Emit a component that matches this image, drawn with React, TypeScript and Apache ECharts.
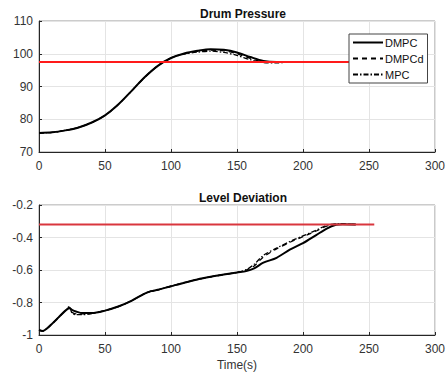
import React, { useEffect, useRef } from "react";
import * as echarts from "echarts";

// ---- Drum Pressure (top) ----
const pT = [0, 10, 20, 30, 40, 50, 60, 70, 80, 90, 100, 110, 120, 130, 140, 150, 160, 170, 180, 190, 200, 220, 240, 254];
const pDMPC = [75.8, 76.0, 76.6, 77.5, 79.0, 81.2, 84.5, 88.6, 92.8, 96.3, 98.7, 100.1, 100.9, 101.4, 101.2, 100.4, 99.0, 97.8, 97.5, 97.5, 97.5, 97.5, 97.5, 97.5];
const pDMPCd = [75.8, 76.0, 76.6, 77.5, 79.0, 81.2, 84.5, 88.6, 92.8, 96.3, 98.7, 100.0, 100.7, 101.1, 100.9, 100.0, 98.6, 97.5, 97.4, 97.5, 97.5, 97.5, 97.5, 97.5];
const pMPC = [75.8, 76.0, 76.6, 77.5, 79.0, 81.2, 84.5, 88.6, 92.8, 96.3, 98.7, 99.9, 100.5, 100.8, 100.4, 99.5, 98.2, 97.3, 97.2, 97.5, 97.5, 97.5, 97.5, 97.5];
const pRefT = [0, 254];
const pRef = [97.5, 97.5];

// ---- Level Deviation (bottom) ----
const lT = [0, 3, 6, 10, 15, 20, 23, 25, 28, 33, 40, 50, 60, 70, 80, 85, 90, 100, 110, 120, 130, 140, 150, 157, 163, 170, 180, 190, 200, 210, 218, 225, 230, 240];
const lDMPC = [-0.97, -0.975, -0.96, -0.93, -0.89, -0.85, -0.835, -0.845, -0.855, -0.865, -0.865, -0.85, -0.825, -0.79, -0.745, -0.73, -0.722, -0.7, -0.678, -0.658, -0.642, -0.628, -0.615, -0.607, -0.59, -0.555, -0.525, -0.475, -0.435, -0.385, -0.345, -0.322, -0.318, -0.32];
const lDMPCd = [-0.97, -0.975, -0.96, -0.93, -0.89, -0.85, -0.83, -0.86, -0.87, -0.87, -0.866, -0.85, -0.825, -0.79, -0.745, -0.73, -0.722, -0.7, -0.678, -0.658, -0.642, -0.628, -0.615, -0.6, -0.575, -0.52, -0.47, -0.43, -0.395, -0.36, -0.33, -0.318, -0.317, -0.32];
const lMPC = [-0.97, -0.975, -0.96, -0.93, -0.89, -0.85, -0.825, -0.865, -0.875, -0.875, -0.868, -0.85, -0.825, -0.79, -0.745, -0.73, -0.722, -0.7, -0.678, -0.658, -0.642, -0.628, -0.615, -0.598, -0.565, -0.51, -0.465, -0.425, -0.39, -0.355, -0.325, -0.317, -0.317, -0.32];
const lRefT = [0, 254];
const lRef = [-0.32, -0.32];

const legendNames = ["DMPC", "DMPCd", "MPC"];

const zip = (t: number[], v: number[]) => t.map((x, i) => [x, v[i]]);

export default function App() {
  const ref = useRef<HTMLDivElement>(null);
  useEffect(() => {
    if (!ref.current) return;
    const chart = echarts.init(ref.current, undefined, { renderer: "svg" });
    const font = "Liberation Sans, Arial, sans-serif";
    const mkX = (gi: number, extra: any = {}) => ({
      type: "value",
      gridIndex: gi,
      min: 0,
      max: 300,
      interval: 50,
      axisLine: { show: true, onZero: false, lineStyle: { color: "#262626", width: 1 } },
      axisTick: { show: true, inside: true, length: 3, lineStyle: { color: "#262626" } },
      axisLabel: { color: "#333", fontSize: 12, fontFamily: font, margin: 8 },
      splitLine: { show: true, lineStyle: { color: "#e4e4e4", width: 1 } },
      ...extra,
    });
    const mkY = (gi: number, min: number, max: number, interval: number) => ({
      type: "value",
      gridIndex: gi,
      min,
      max,
      interval,
      axisLine: { show: true, onZero: false, lineStyle: { color: "#262626", width: 1 } },
      axisTick: { show: true, inside: true, length: 3, lineStyle: { color: "#262626" } },
      axisLabel: { color: "#333", fontSize: 12, fontFamily: font, margin: 6 },
      splitLine: { show: true, lineStyle: { color: "#e4e4e4", width: 1 } },
    });
    const line = (name: string, gi: number, data: number[][], type: any, width: number, color = "#000", z = 2) => ({
      name,
      type: "line",
      xAxisIndex: gi,
      yAxisIndex: gi,
      data,
      symbol: "none",
      smooth: 0.3,
      lineStyle: { color, width, type },
      itemStyle: { color },
      z,
    });
    chart.setOption({
      animation: false,
      backgroundColor: "#fff",
      title: [
        { text: "Drum Pressure", left: 238, top: 3, textAlign: "center", textStyle: { fontSize: 12, fontWeight: "bold", color: "#111", fontFamily: font } },
        { text: "Level Deviation", left: 238, top: 187, textAlign: "center", textStyle: { fontSize: 12, fontWeight: "bold", color: "#111", fontFamily: font } },
      ],
      grid: [
        { left: 39, right: 10, top: 21, height: 131, show: true, borderColor: "#999", borderWidth: 1, backgroundColor: "transparent" },
        { left: 39, right: 10, top: 205, height: 130, show: true, borderColor: "#999", borderWidth: 1, backgroundColor: "transparent" },
      ],
      xAxis: [
        mkX(0),
        mkX(1, { name: "Time(s)", nameLocation: "middle", nameGap: 24, nameTextStyle: { color: "#333", fontSize: 12, fontFamily: font } }),
      ],
      yAxis: [mkY(0, 70, 110, 10), mkY(1, -1, -0.2, 0.2)],
      legend: {
        data: legendNames,
        orient: "vertical",
        left: 349,
        top: 34,
        itemWidth: 30,
        itemHeight: 10,
        itemGap: 5,
        padding: [3, 4, 3, 3],
        borderColor: "#444",
        borderWidth: 1,
        borderRadius: 0,
        backgroundColor: "#fff",
        itemStyle: { opacity: 0, borderWidth: 0 },
        textStyle: { color: "#111", fontSize: 11, fontFamily: font, padding: [0, 0, 0, -3] },
        z: 10,
      },
      series: [
        line("DMPC", 0, zip(pT, pDMPC), "solid", 2),
        line("DMPCd", 0, zip(pT, pDMPCd), [5, 4], 1.3),
        line("MPC", 0, zip(pT, pMPC), [5, 2, 1.5, 2], 1.3),
        line("ref1", 0, zip(pRefT, pRef), "solid", 2, "#ff1a1a", 3),
        line("DMPC", 1, zip(lT, lDMPC), "solid", 2),
        line("DMPCd", 1, zip(lT, lDMPCd), [5, 4], 1.3),
        line("MPC", 1, zip(lT, lMPC), [5, 2, 1.5, 2], 1.3),
        line("ref2", 1, zip(lRefT, lRef), "solid", 2, "#d9363e", 3),
      ],
    });
    return () => chart.dispose();
  }, []);
  return <div ref={ref} style={{ width: 448, height: 375, position: "absolute", left: 0, top: 0 }} />;
}
